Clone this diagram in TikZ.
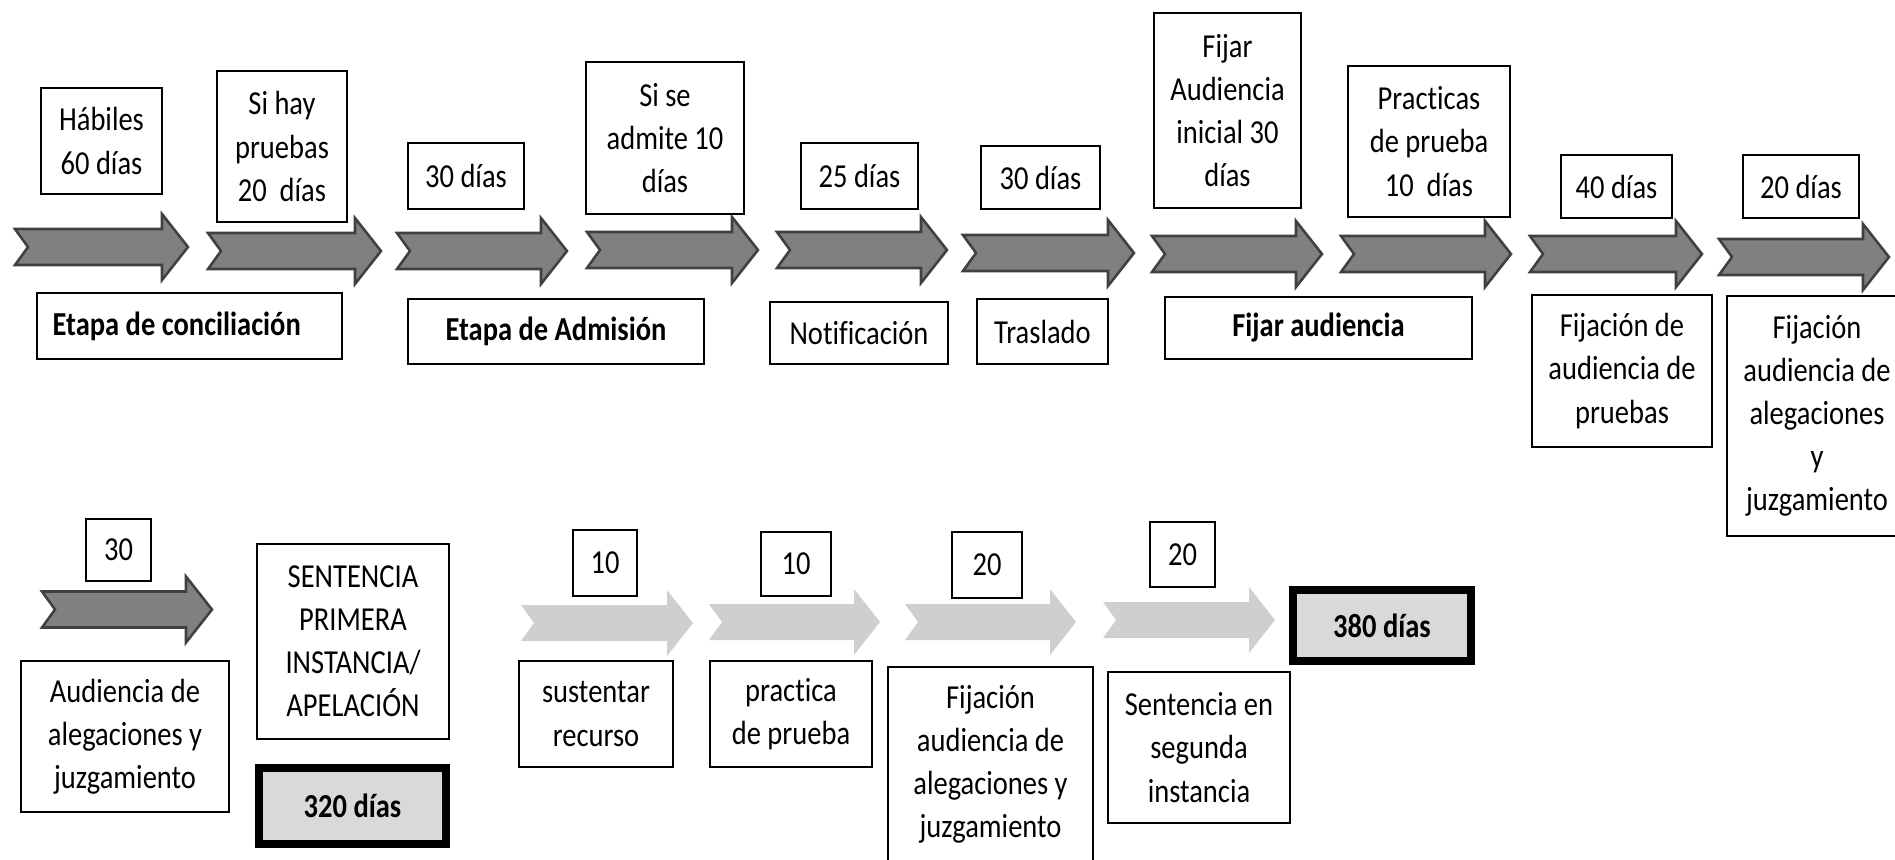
\documentclass[tikz,border=0pt]{standalone}
\usepackage{fontspec}
\setmainfont{Carlito}[FakeStretch=0.85, Ligatures=NoCommon]

\definecolor{grisosc}{RGB}{128,128,128}
\definecolor{bordeosc}{RGB}{64,64,64}
\definecolor{grisclaro}{RGB}{208,206,206}
\definecolor{grisfondo}{RGB}{217,217,217}

\tikzset{
  caja/.style={draw, line width=0.6pt, align=center, inner sep=0pt, font=\fontsize{10.5}{13.5}\selectfont},
  tam/.style 2 args={minimum width=#1*0.313pt, minimum height=#2*0.313pt},
  total/.style={caja, line width=2.4pt, fill=grisfondo, font=\fontsize{10.5}{13.5}\selectfont\bfseries},
  negrita/.style={caja, font=\fontsize{10.5}{13.5}\selectfont\bfseries},
  oscura/.style={fill=grisosc, draw=bordeosc, line width=0.8pt, line join=miter},
  clara/.style={fill=grisclaro, draw=none},
}

% flecha con muesca: estilo, x inicio, x fin, y centro
\newcommand{\flecha}[4]{%
  \draw[#1] (#2,#4-18) -- (#3-26,#4-18) -- (#3-26,#4-33) -- (#3,#4) -- (#3-26,#4+33)
    -- (#3-26,#4+18) -- (#2,#4+18) -- (#2+13,#4) -- cycle;}

\begin{document}
\begin{tikzpicture}[x=0.313pt, y=-0.313pt]
\useasboundingbox (0,0) rectangle (1895,859);
\clip (0,0) rectangle (1895,859);

% primera fila
\foreach \a/\b/\y in {15/188/247, 208/381/251, 397/567/251, 587/758/250, 777/947/250,
  963/1134/253, 1152/1322/254, 1341/1511/254, 1530/1702/254, 1719/1889/257}
  \flecha{oscura}{\a}{\b}{\y};

\node[caja, tam={121}{106}] (habiles) at (101.5,141) {Hábiles\\60 días};
\node[caja, tam={130}{151}] (sihay) at (282,146.5) {Si hay\\pruebas\\20\ \ días};
\node[caja, tam={116}{66}] (dias30a) at (466,176) {30 días};
\node[caja, tam={158}{152}] (sise) at (665,138) {Si se\\admite 10\\días};
\node[caja, tam={117}{66}] (dias25) at (859.5,176) {25 días};
\node[caja, tam={119}{63}] (dias30b) at (1040.5,177.5) {30 días};
\node[caja, tam={147}{195}] (fijarini) at (1227.5,110.5) {Fijar\\Audiencia\\inicial 30\\días};
\node[caja, tam={162}{151}] (practicas) at (1429,141.5) {Practicas\\de prueba\\10\ \ días};
\node[caja, tam={111}{63}] (dias40) at (1616.5,186.5) {40 días};
\node[caja, tam={116}{63}] (dias20) at (1801,186.5) {20 días};

\node[negrita, tam={305}{66}] (conciliacion) at (189.5,326) {Etapa de conciliación\kern8pt};
\node[negrita, tam={296}{65}] (admision) at (556,331.5) {Etapa de Admisión};
\node[caja, tam={178}{62}] (notificacion) at (859,333) {Notificación};
\node[caja, tam={131}{65}] (traslado) at (1042.5,331.5) {Traslado};
\node[negrita, tam={307}{62}] (fijaraud) at (1318.5,328) {Fijar audiencia};
\node[caja, tam={180}{152}] (fijpruebas) at (1622,371) {Fijación de\\audiencia de\\pruebas};
\node[caja, tam={180}{240}] (fijalega) at (1817,416) {Fijación\\audiencia de\\alegaciones\\y\\juzgamiento};

% segunda fila
\flecha{oscura}{42}{212}{609.5}
\foreach \a/\b/\y in {521/693/623, 709/880/622, 905/1076/622, 1103/1275/620}
  \flecha{clara}{\a}{\b}{\y};

\node[caja, tam={65}{62}] (dias30c) at (118.5,550) {30};
\node[caja, tam={208}{151}] (audalega) at (125,736.5) {Audiencia de\\alegaciones y\\juzgamiento};
\node[caja, tam={192}{195}] (sentencia) at (353,641.5) {SENTENCIA\\PRIMERA\\INSTANCIA/\\APELACIÓN};
\node[total, tam={187}{76}] (dias320) at (352.5,806) {320 días};
\node[caja, tam={64}{66}] (dias10a) at (605,563) {10};
\node[caja, tam={154}{106}] (sustentar) at (596,714) {sustentar\\recurso};
\node[caja, tam={70}{64}] (dias10b) at (796,564) {10};
\node[caja, tam={162}{106}] (practica) at (791,714) {practica\\de prueba};
\node[caja, tam={70}{66}] (dias20a) at (987,565) {20};
\node[caja, tam={205}{195}] (fijalegb) at (990.5,764.5) {Fijación\\audiencia de\\alegaciones y\\juzgamiento};
\node[caja, tam={65}{65}] (dias20b) at (1182.5,554.5) {20};
\node[caja, tam={182}{151}] (segunda) at (1199,747.5) {Sentencia en\\segunda\\instancia};
\node[total, tam={178}{71}] (dias380) at (1382,625.5) {380 días};
\end{tikzpicture}
\end{document}
